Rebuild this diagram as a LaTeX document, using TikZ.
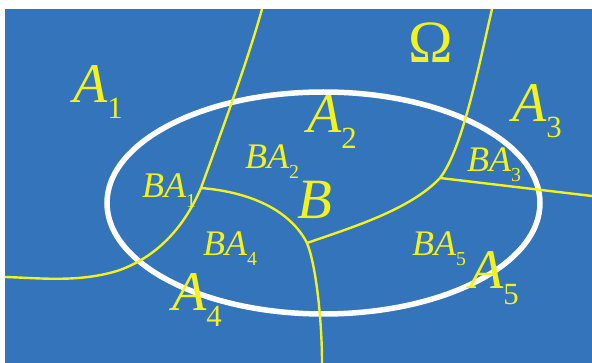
\documentclass[tikz,border=0pt]{standalone}
\usepackage{fontspec}
\setmainfont{Liberation Serif}
\usepackage{graphicx}
\definecolor{seablue}{RGB}{52,116,186}
\definecolor{lineyellow}{RGB}{242,242,30}
\newcommand{\idx}[1]{\raisebox{-0.27em}{\scalebox{0.55}{\upshape #1}}}

\begin{document}
\begin{tikzpicture}[x=1pt, y=-1pt,
  part/.style={line width=2.4pt, draw=lineyellow},
  event/.style={line width=5.5pt, draw=white},
  big/.style={text=lineyellow, inner sep=0pt, anchor=base west,
              font=\fontsize{56}{60}\selectfont\itshape},
  small/.style={text=lineyellow, inner sep=0pt, anchor=base west,
                font=\fontsize{36}{40}\selectfont\itshape}
]
\useasboundingbox (0,0) rectangle (592,363);
\fill[seablue] (5,9) rectangle (592,363);

%% Event B
\draw[event] (323.5,203) ellipse [x radius=216.5pt, y radius=111pt];

%% Partition points
\coordinate (t1) at (262,9);
\coordinate (j1) at (201,188);
\coordinate (l1) at (5,277);
\coordinate (j2) at (307,243);
\coordinate (b2) at (322,363);
\coordinate (j3) at (440,178);
\coordinate (t3) at (492,9);
\coordinate (r3) at (592,196);

%% Partition borders
\draw[part] (t1) .. controls (248,60) and (222,130) .. (j1);
\draw[part] (j1) .. controls (185,225) and (160,255) .. (120,270)
                 .. controls (80,283) and (40,278) .. (l1);
\draw[part] (j1) .. controls (250,192) and (290,210) .. (j2);
\draw[part] (j2) .. controls (316,265) and (322,320) .. (b2);
\draw[part] (j2) .. controls (350,228) and (410,210) .. (j3);
\draw[part] (j3) .. controls (462,150) and (478,70) .. (t3);
\draw[part] (j3) -- (r3);

%% Labels
\node[text=lineyellow, inner sep=0pt, anchor=base,
      font=\fontsize{60}{64}\selectfont] (omega) at (431,63) {Ω};
\node[big] (a1) at (73,103)  {A\idx{1}};
\node[big] (a2) at (307,133) {A\idx{2}};
\node[big] (a3) at (512,122) {A\idx{3}};
\node[big] (a4) at (172,311) {A\idx{4}};
\node[big] (a5) at (469,289) {A\idx{5}};
\node[big, font=\fontsize{57}{60}\selectfont\itshape] (b) at (297,219) {B};
\node[small] (ba1) at (142,198) {BA\idx{1}};
\node[small] (ba2) at (245,169) {BA\idx{2}};
\node[small] (ba3) at (467,172) {BA\idx{3}};
\node[small] (ba4) at (203,256) {BA\idx{4}};
\node[small] (ba5) at (412,256) {BA\idx{5}};
\end{tikzpicture}
\end{document}
